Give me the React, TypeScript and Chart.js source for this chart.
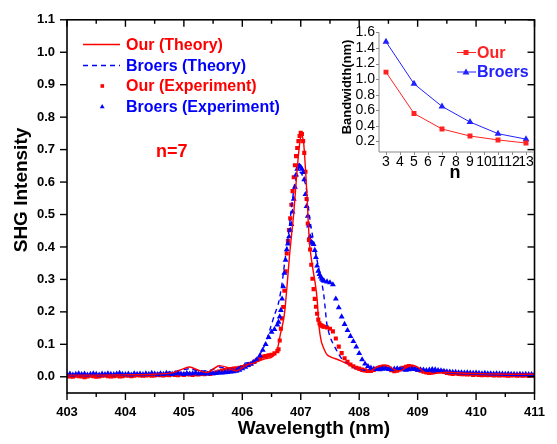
import { useEffect, useRef } from "react";
import { Chart, registerables } from "chart.js";

Chart.register(...registerables);

const FONT = '"Liberation Sans", Arial, sans-serif';
const RED = "#ff0000";
const BLUE = "#0000ff";

// ---------- main chart data ----------
const xTicks = [403, 404, 405, 406, 407, 408, 409, 410, 411];
const xMinorTicks = [403.5, 404.5, 405.5, 406.5, 407.5, 408.5, 409.5, 410.5];
const yTicks = [0, 0.1, 0.2, 0.3, 0.4, 0.5, 0.6, 0.7, 0.8, 0.9, 1.0, 1.1];

const redTheoryX = [403.0, 403.5, 404.0, 404.5, 404.8, 405.0, 405.1, 405.25, 405.4, 405.6, 405.75, 405.9, 406.1, 406.2, 406.3, 406.4, 406.5, 406.59, 406.65, 406.7, 406.73, 406.77, 406.81, 406.85, 406.88, 406.93, 406.97, 407.01, 407.05, 407.1, 407.15, 407.2, 407.25, 407.28, 407.31, 407.35, 407.4, 407.45, 407.55, 407.62, 407.7, 407.8, 407.9, 408.0, 408.1, 408.2, 408.3, 408.4, 408.5, 408.6, 408.7, 408.8, 408.9, 409.0, 409.1, 409.2, 409.3, 409.5, 409.8, 410.2, 410.6, 411.0];
const redTheoryY = [0.005, 0.005, 0.006, 0.008, 0.012, 0.025, 0.030, 0.020, 0.013, 0.034, 0.028, 0.018, 0.038, 0.042, 0.050, 0.056, 0.060, 0.079, 0.130, 0.170, 0.208, 0.290, 0.378, 0.450, 0.503, 0.620, 0.700, 0.750, 0.720, 0.580, 0.410, 0.340, 0.285, 0.240, 0.160, 0.110, 0.085, 0.068, 0.058, 0.054, 0.048, 0.040, 0.030, 0.020, 0.015, 0.018, 0.030, 0.036, 0.034, 0.022, 0.018, 0.028, 0.036, 0.030, 0.016, 0.008, 0.010, 0.014, 0.011, 0.009, 0.008, 0.008];

const broersTheoryX = [403.0, 403.5, 404.0, 404.5, 404.8, 405.0, 405.1, 405.25, 405.45, 405.6, 405.75, 405.9, 406.05, 406.15, 406.25, 406.35, 406.42, 406.48, 406.55, 406.62, 406.68, 406.73, 406.77, 406.84, 406.9, 406.95, 407.0, 407.05, 407.09, 407.12, 407.17, 407.23, 407.28, 407.34, 407.39, 407.42, 407.45, 407.51, 407.62, 407.73, 407.9, 408.0, 408.15, 408.3, 408.45, 408.6, 408.75, 408.9, 409.05, 409.2, 409.4, 409.7, 410.0, 410.5, 411.0];
const broersTheoryY = [0.006, 0.006, 0.007, 0.010, 0.015, 0.022, 0.025, 0.018, 0.020, 0.030, 0.025, 0.025, 0.042, 0.045, 0.055, 0.085, 0.115, 0.150, 0.190, 0.228, 0.288, 0.360, 0.408, 0.518, 0.598, 0.625, 0.630, 0.610, 0.588, 0.538, 0.468, 0.408, 0.358, 0.308, 0.258, 0.208, 0.159, 0.119, 0.079, 0.049, 0.029, 0.022, 0.020, 0.025, 0.030, 0.022, 0.022, 0.028, 0.024, 0.016, 0.014, 0.011, 0.010, 0.009, 0.008];

const expWavelength = [
  403.00, 403.05, 403.10, 403.15, 403.20, 403.25, 403.30, 403.35, 403.40, 403.45,
  403.50, 403.55, 403.60, 403.65, 403.70, 403.75, 403.80, 403.85, 403.90, 403.95,
  404.00, 404.05, 404.10, 404.15, 404.20, 404.25, 404.30, 404.35, 404.40, 404.45,
  404.50, 404.55, 404.60, 404.65, 404.70, 404.75, 404.80, 404.85, 404.90, 404.95,
  405.00, 405.05, 405.10, 405.15, 405.20, 405.25, 405.30, 405.35, 405.40, 405.45,
  405.5, 405.55, 405.6, 405.65, 405.7, 405.75, 405.8, 405.85, 405.9, 405.95, 406.0, 406.05, 406.1, 406.15, 406.2, 406.25, 406.3, 406.35, 406.4, 406.45, 406.5, 406.55, 406.6,
  406.62, 406.64, 406.66, 406.68, 406.70, 406.72, 406.74, 406.76, 406.78, 406.80, 406.82, 406.84, 406.86, 406.88, 406.90, 406.92, 406.94, 406.96, 406.98, 407.00, 407.02, 407.04, 407.06, 407.08, 407.10, 407.12, 407.14, 407.16, 407.18, 407.20, 407.22, 407.24, 407.26, 407.28, 407.30, 407.32, 407.34, 407.36, 407.38, 407.40,
  407.45, 407.5, 407.55, 407.6, 407.65, 407.7, 407.75, 407.8, 407.85, 407.9, 407.95, 408.0, 408.05, 408.1, 408.15, 408.2, 408.25, 408.3, 408.35, 408.4, 408.45, 408.5, 408.55, 408.6, 408.65, 408.7, 408.75, 408.8, 408.85, 408.9, 408.95, 409.0,
  409.05, 409.10, 409.15, 409.20, 409.25, 409.30, 409.35, 409.40, 409.45, 409.50,
  409.55, 409.60, 409.65, 409.70, 409.75, 409.80, 409.85, 409.90, 409.95, 410.00,
  410.05, 410.10, 410.15, 410.20, 410.25, 410.30, 410.35, 410.40, 410.45, 410.50,
  410.55, 410.60, 410.65, 410.70, 410.75, 410.80, 410.85, 410.90, 410.95, 411.00,
];
const redExpY = [
  0.002, 0.001, 0.000, 0.003, 0.002, 0.001, -0.001, 0.001, 0.003, 0.002,
  0.000, 0.001, 0.003, 0.004, 0.002, 0.001, 0.002, 0.003, 0.001, 0.002,
  0.004, 0.003, 0.002, 0.003, 0.005, 0.004, 0.003, 0.004, 0.005, 0.003,
  0.004, 0.006, 0.005, 0.004, 0.006, 0.005, 0.007, 0.006, 0.005, 0.007,
  0.006, 0.008, 0.007, 0.006, 0.008, 0.007, 0.009, 0.008, 0.010, 0.009,
  0.011, 0.013, 0.016, 0.019, 0.021, 0.023, 0.024, 0.025, 0.026, 0.028, 0.030, 0.033, 0.036, 0.040, 0.046, 0.052, 0.058, 0.062, 0.064, 0.066, 0.068, 0.072, 0.079,
  0.085, 0.112, 0.148, 0.180, 0.215, 0.265, 0.325, 0.380, 0.418, 0.452, 0.488, 0.530, 0.572, 0.615, 0.652, 0.680, 0.705, 0.726, 0.742, 0.752, 0.748, 0.726, 0.690, 0.632, 0.548, 0.472, 0.422, 0.392, 0.345, 0.302, 0.270, 0.240, 0.216, 0.194, 0.176, 0.165, 0.159, 0.157, 0.155, 0.154,
  0.152, 0.148, 0.140, 0.118, 0.093, 0.073, 0.057, 0.046, 0.038, 0.032, 0.028, 0.025, 0.022, 0.020, 0.018, 0.018, 0.021, 0.025, 0.029, 0.031, 0.029, 0.024, 0.020, 0.017, 0.019, 0.023, 0.028, 0.031, 0.033, 0.031, 0.026, 0.021,
  0.019, 0.016, 0.013, 0.012, 0.014, 0.016, 0.018, 0.017, 0.015, 0.012,
  0.010, 0.009, 0.010, 0.009, 0.008, 0.008, 0.007, 0.008, 0.006, 0.007,
  0.006, 0.005, 0.006, 0.005, 0.006, 0.004, 0.005, 0.004, 0.005, 0.004,
  0.003, 0.004, 0.005, 0.003, 0.004, 0.003, 0.004, 0.003, 0.004, 0.003,
];
const broersExpY = [
  0.007, 0.009, 0.006, 0.008, 0.010, 0.007, 0.009, 0.006, 0.008, 0.010,
  0.008, 0.006, 0.009, 0.007, 0.010, 0.008, 0.007, 0.009, 0.011, 0.008,
  0.007, 0.009, 0.006, 0.010, 0.008, 0.009, 0.007, 0.010, 0.008, 0.011,
  0.009, 0.007, 0.010, 0.008, 0.011, 0.009, 0.008, 0.010, 0.012, 0.009,
  0.008, 0.011, 0.009, 0.010, 0.012, 0.009, 0.011, 0.010, 0.009, 0.011,
  0.010, 0.011, 0.012, 0.012, 0.013, 0.014, 0.015, 0.016, 0.018, 0.021, 0.025, 0.030, 0.035, 0.040, 0.046, 0.053, 0.065, 0.082, 0.100, 0.122, 0.138, 0.146, 0.160,
  0.169, 0.185, 0.205, 0.240, 0.278, 0.320, 0.360, 0.392, 0.410, 0.432, 0.452, 0.470, 0.508, 0.548, 0.585, 0.622, 0.640, 0.648, 0.650, 0.646, 0.640, 0.630, 0.608, 0.562, 0.525, 0.495, 0.465, 0.432, 0.415, 0.412, 0.408, 0.390, 0.368, 0.342, 0.326, 0.316, 0.308, 0.302, 0.298, 0.295,
  0.293, 0.290, 0.284, 0.240, 0.213, 0.185, 0.162, 0.143, 0.125, 0.109, 0.092, 0.072, 0.053, 0.040, 0.032, 0.027, 0.024, 0.023, 0.022, 0.024, 0.025, 0.023, 0.022, 0.024, 0.025, 0.024, 0.022, 0.021, 0.022, 0.024, 0.023, 0.021,
  0.022, 0.021, 0.020, 0.021, 0.023, 0.022, 0.020, 0.019, 0.017, 0.016,
  0.015, 0.014, 0.014, 0.013, 0.013, 0.012, 0.013, 0.012, 0.011, 0.012,
  0.011, 0.010, 0.011, 0.010, 0.010, 0.009, 0.010, 0.009, 0.009, 0.008,
  0.009, 0.008, 0.008, 0.007, 0.008, 0.007, 0.008, 0.007, 0.007, 0.007,
];

const legendLabels = ["Our (Theory)", "Broers (Theory)", "Our (Experiment)", "Broers (Experiment)"];
const annotationText = "n=7";

// ---------- inset data ----------
const insetN = [3, 5, 7, 9, 11, 13];
const ourBandwidth = [1.09, 0.56, 0.36, 0.27, 0.22, 0.18];
const broersBandwidth = [1.48, 0.94, 0.65, 0.45, 0.30, 0.23];
const insetXTicks = [3, 4, 5, 6, 7, 8, 9, 10, 11, 12, 13];
const insetYTicks = [0.2, 0.4, 0.6, 0.8, 1.0, 1.2, 1.4, 1.6];
const insetLegend = ["Our", "Broers"];

const pairs = (xs: number[], ys: number[]) => xs.map((x, i) => ({ x, y: ys[i] }));

function line(ctx: CanvasRenderingContext2D, x1: number, y1: number, x2: number, y2: number) {
  ctx.beginPath();
  ctx.moveTo(x1, y1);
  ctx.lineTo(x2, y2);
  ctx.stroke();
}

function tri(ctx: CanvasRenderingContext2D, x: number, y: number, r: number) {
  ctx.beginPath();
  ctx.moveTo(x, y - r);
  ctx.lineTo(x + r * 0.866, y + r * 0.5);
  ctx.lineTo(x - r * 0.866, y + r * 0.5);
  ctx.closePath();
  ctx.fill();
}

const mainDecor = {
  id: "mainDecor",
  afterDraw(chart: any) {
    const { ctx, chartArea: a, scales } = chart;
    const xs = scales.x;
    const ys = scales.y;
    ctx.save();
    ctx.strokeStyle = "#000";
    ctx.lineWidth = 1.6;
    ctx.strokeRect(a.left, a.top, a.right - a.left, a.bottom - a.top);
    ctx.lineWidth = 1.4;
    xTicks.forEach((v) => {
      const p = xs.getPixelForValue(v);
      line(ctx, p, a.bottom, p, a.bottom + 7);
      line(ctx, p, a.top, p, a.top + 7);
    });
    xMinorTicks.forEach((v) => {
      const p = xs.getPixelForValue(v);
      line(ctx, p, a.bottom, p, a.bottom + 4);
      line(ctx, p, a.top, p, a.top + 4);
    });
    yTicks.forEach((v) => {
      const p = ys.getPixelForValue(v);
      line(ctx, a.left - 7, p, a.left, p);
      line(ctx, a.right - 7, p, a.right, p);
    });

    // axis titles
    ctx.fillStyle = "#000";
    ctx.font = `bold 19px ${FONT}`;
    ctx.textAlign = "center";
    ctx.textBaseline = "alphabetic";
    ctx.fillText("Wavelength (nm)", 314, 434);
    ctx.save();
    ctx.translate(26.5, 190);
    ctx.rotate(-Math.PI / 2);
    ctx.fillText("SHG Intensity", 0, 0);
    ctx.restore();

    // legend
    const rows = [44.5, 65.5, 86, 106.5];
    const colors = [RED, BLUE, RED, BLUE];
    ctx.font = `bold 16px ${FONT}`;
    ctx.textAlign = "left";
    ctx.textBaseline = "middle";
    rows.forEach((ry, i) => {
      ctx.strokeStyle = colors[i];
      ctx.fillStyle = colors[i];
      ctx.lineWidth = 1.4;
      if (i === 0) {
        line(ctx, 83, ry, 120, ry);
      } else if (i === 1) {
        ctx.setLineDash([5, 4]);
        line(ctx, 83, ry, 120, ry);
        ctx.setLineDash([]);
      } else if (i === 2) {
        ctx.fillRect(100.5, ry - 1.8, 3.6, 3.6);
      } else {
        tri(ctx, 102.2, ry + 0.3, 2.8);
      }
      ctx.fillText(legendLabels[i], 126, ry + 1);
    });

    // annotation
    ctx.fillStyle = RED;
    ctx.font = `bold 18px ${FONT}`;
    ctx.fillText(annotationText, 156, 152);
    ctx.restore();
  },
};

const insetDecor = {
  id: "insetDecor",
  afterDraw(chart: any) {
    const { ctx, chartArea: a, scales } = chart;
    const xs = scales.x;
    const ys = scales.y;
    ctx.save();
    ctx.strokeStyle = "#8a8a8a";
    ctx.lineWidth = 1;
    line(ctx, a.left, a.top, a.left, a.bottom);
    line(ctx, a.left, a.bottom, a.right, a.bottom);
    insetYTicks.forEach((v) => {
      const p = Math.round(ys.getPixelForValue(v)) + 0.5;
      line(ctx, a.left - 3, p, a.left, p);
    });
    insetXTicks.forEach((v) => {
      const p = Math.round(xs.getPixelForValue(v)) + 0.5;
      line(ctx, p, a.bottom, p, a.bottom + 3);
    });

    ctx.fillStyle = "#000";
    ctx.font = `bold 13px ${FONT}`;
    ctx.textAlign = "center";
    ctx.textBaseline = "middle";
    ctx.save();
    ctx.translate(17, 67);
    ctx.rotate(-Math.PI / 2);
    ctx.fillText("Bandwidth(nm)", 0, 0);
    ctx.restore();
    ctx.font = `bold 18px ${FONT}`;
    ctx.fillText("n", 125, 153);

    // legend
    const rows = [32.5, 52];
    const colors = ["#ff2222", "#2222ff"];
    ctx.font = `bold 16px ${FONT}`;
    ctx.textAlign = "left";
    rows.forEach((ry, i) => {
      ctx.strokeStyle = colors[i];
      ctx.fillStyle = colors[i];
      ctx.lineWidth = 1;
      line(ctx, 127, ry, 146, ry);
      if (i === 0) ctx.fillRect(133.5, ry - 2.5, 5, 5);
      else tri(ctx, 136, ry + 0.5, 4);
      ctx.fillText(insetLegend[i], 147, ry + 1);
    });
    ctx.restore();
  },
};

export default function App() {
  const mainRef = useRef<HTMLCanvasElement>(null);
  const insetRef = useRef<HTMLCanvasElement>(null);

  useEffect(() => {
    const tickFont = { family: FONT, size: 13, weight: "bold" as const };
    const main = new Chart(mainRef.current!, {
      type: "scatter",
      data: {
        datasets: [
          {
            label: legendLabels[0],
            data: pairs(redTheoryX, redTheoryY),
            showLine: true,
            borderColor: RED,
            borderWidth: 1.4,
            pointRadius: 0,
            tension: 0.25,
            order: 0,
          },
          {
            label: legendLabels[1],
            data: pairs(broersTheoryX, broersTheoryY),
            showLine: true,
            borderColor: BLUE,
            borderWidth: 1.4,
            borderDash: [5, 4],
            pointRadius: 0,
            tension: 0.25,
            order: 1,
          },
          {
            label: legendLabels[3],
            data: pairs(expWavelength, broersExpY),
            showLine: false,
            pointStyle: "triangle",
            pointRadius: 3.4,
            backgroundColor: BLUE,
            borderColor: BLUE,
            borderWidth: 0,
            order: 2,
          },
          {
            label: legendLabels[2],
            data: pairs(expWavelength, redExpY),
            showLine: false,
            pointStyle: "rect",
            pointRadius: 2.9,
            backgroundColor: RED,
            borderColor: RED,
            borderWidth: 0,
            order: 3,
          },
        ],
      },
      options: {
        responsive: false,
        animation: false,
        devicePixelRatio: 1,
        layout: { padding: { left: 0, top: 9, right: 11, bottom: 0 } },
        plugins: { legend: { display: false }, tooltip: { enabled: false } },
        scales: {
          x: {
            type: "linear",
            min: 403,
            max: 411,
            grid: { display: false, drawTicks: false },
            border: { display: false },
            ticks: {
              font: tickFont,
              color: "#000",
              padding: 12,
              maxRotation: 0,
              autoSkip: false,
              callback: (v: any) => String(v),
            },
            afterBuildTicks: (s: any) => {
              s.ticks = xTicks.map((value) => ({ value }));
            },
            afterFit: (s: any) => {
              s.height = 51;
            },
          },
          y: {
            type: "linear",
            min: -0.05,
            max: 1.1,
            grid: { display: false, drawTicks: false },
            border: { display: false },
            ticks: {
              font: tickFont,
              color: "#000",
              padding: 12,
              autoSkip: false,
              callback: (v: any) => Number(v).toFixed(1),
            },
            afterBuildTicks: (s: any) => {
              s.ticks = yTicks.map((value) => ({ value }));
            },
            afterFit: (s: any) => {
              s.width = 67;
            },
          },
        },
      },
      plugins: [mainDecor],
    });

    const insetFont = { family: FONT, size: 14 };
    const inset = new Chart(insetRef.current!, {
      type: "scatter",
      data: {
        datasets: [
          {
            label: insetLegend[0],
            data: pairs(insetN, ourBandwidth),
            showLine: true,
            borderColor: "#ff2222",
            backgroundColor: "#ff2222",
            borderWidth: 1,
            pointStyle: "rect",
            pointRadius: 3.5,
            pointBorderWidth: 0,
          },
          {
            label: insetLegend[1],
            data: pairs(insetN, broersBandwidth),
            showLine: true,
            borderColor: "#2222ff",
            backgroundColor: "#2222ff",
            borderWidth: 1,
            pointStyle: "triangle",
            pointRadius: 4,
            pointBorderWidth: 0,
          },
        ],
      },
      options: {
        responsive: false,
        animation: false,
        devicePixelRatio: 1,
        layout: { padding: { left: 0, top: 12, right: 7, bottom: 0 } },
        plugins: { legend: { display: false }, tooltip: { enabled: false } },
        scales: {
          x: {
            type: "linear",
            min: 2.5,
            max: 13.5,
            grid: { display: false, drawTicks: false },
            border: { display: false },
            ticks: {
              font: insetFont,
              color: "#000",
              padding: 2,
              maxRotation: 0,
              autoSkip: false,
              callback: (v: any) => String(v),
            },
            afterBuildTicks: (s: any) => {
              s.ticks = insetXTicks.map((value) => ({ value }));
            },
            afterFit: (s: any) => {
              s.height = 33;
            },
          },
          y: {
            type: "linear",
            min: 0.065,
            max: 1.6,
            grid: { display: false, drawTicks: false },
            border: { display: false },
            ticks: {
              font: insetFont,
              color: "#000",
              padding: 4,
              autoSkip: false,
              callback: (v: any) => Number(v).toFixed(1),
            },
            afterBuildTicks: (s: any) => {
              s.ticks = insetYTicks.map((value) => ({ value }));
            },
            afterFit: (s: any) => {
              s.width = 49;
            },
          },
        },
      },
      plugins: [insetDecor],
    });

    return () => {
      main.destroy();
      inset.destroy();
    };
  }, []);

  return (
    <div style={{ position: "absolute", left: 0, top: 0, width: 557, height: 444, background: "#fff" }}>
      <canvas ref={mainRef} width={557} height={444} style={{ position: "absolute", left: 0, top: 0 }} />
      <canvas ref={insetRef} width={210} height={165} style={{ position: "absolute", left: 330, top: 20 }} />
    </div>
  );
}
